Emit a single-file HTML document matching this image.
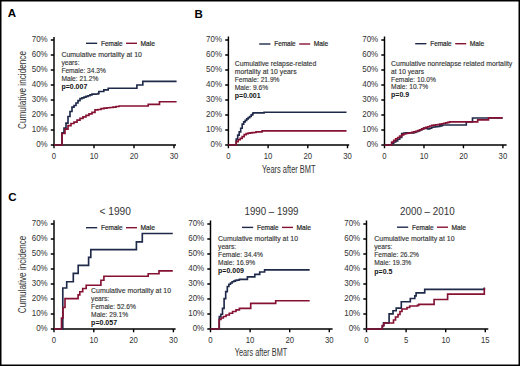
<!DOCTYPE html>
<html><head><meta charset="utf-8"><style>
html,body{margin:0;padding:0;background:#fff;}
body{width:520px;height:366px;position:relative;overflow:hidden;font-family:"Liberation Sans", sans-serif;}
</style></head><body>
<svg width="520" height="366" viewBox="0 0 520 366" style="position:absolute;left:0;top:0" font-family='"Liberation Sans", sans-serif'>
<rect x="0" y="0" width="520" height="366" fill="#fff"/>
<text x="7.8" y="17.4" font-size="11.5" text-anchor="start" font-weight="bold" fill="#000">A</text>
<text x="194.6" y="17.5" font-size="11.5" text-anchor="start" font-weight="bold" fill="#000">B</text>
<text x="8.2" y="201.4" font-size="11.5" text-anchor="start" font-weight="bold" fill="#000">C</text>
<text transform="translate(26,90) rotate(-90)" font-size="10" text-anchor="middle" fill="#333" textLength="78" lengthAdjust="spacingAndGlyphs">Cumulative incidence</text>
<text transform="translate(26,274.4) rotate(-90)" font-size="10" text-anchor="middle" fill="#333" textLength="77.5" lengthAdjust="spacingAndGlyphs">Cumulative incidence</text>
<text x="288.8" y="172.8" font-size="10" text-anchor="middle" font-weight="normal" fill="#333" textLength="53.5" lengthAdjust="spacingAndGlyphs">Years after BMT</text>
<text x="261" y="356.2" font-size="10" text-anchor="middle" font-weight="normal" fill="#333" textLength="52.5" lengthAdjust="spacingAndGlyphs">Years after BMT</text>
<text x="115.2" y="214.5" font-size="10" text-anchor="middle" font-weight="normal" fill="#333" textLength="31.4" lengthAdjust="spacingAndGlyphs">&lt; 1990</text>
<text x="271.5" y="215" font-size="10" text-anchor="middle" font-weight="normal" fill="#333" textLength="54" lengthAdjust="spacingAndGlyphs">1990 – 1999</text>
<text x="427.3" y="215" font-size="10" text-anchor="middle" font-weight="normal" fill="#333" textLength="54.6" lengthAdjust="spacingAndGlyphs">2000 – 2010</text>
<path d="M54 37 V145 M53.4 145 H176" stroke="#000" stroke-width="1.45" fill="none"/>
<path d="M50.8 145.00 H54 M50.8 130.00 H54 M50.8 115.00 H54 M50.8 100.00 H54 M50.8 85.00 H54 M50.8 70.00 H54 M50.8 55.00 H54 M50.8 40.00 H54 M54.00 145 V148.2 M94.00 145 V148.2 M134.00 145 V148.2 M174.00 145 V148.2 " stroke="#000" stroke-width="1.4" fill="none"/>
<text transform="translate(47.7,147.45) scale(0.85,1)" font-size="9.4" text-anchor="end" font-weight="normal" fill="#333">0%</text>
<text transform="translate(47.7,132.45) scale(0.85,1)" font-size="9.4" text-anchor="end" font-weight="normal" fill="#333">10%</text>
<text transform="translate(47.7,117.45) scale(0.85,1)" font-size="9.4" text-anchor="end" font-weight="normal" fill="#333">20%</text>
<text transform="translate(47.7,102.45) scale(0.85,1)" font-size="9.4" text-anchor="end" font-weight="normal" fill="#333">30%</text>
<text transform="translate(47.7,87.45) scale(0.85,1)" font-size="9.4" text-anchor="end" font-weight="normal" fill="#333">40%</text>
<text transform="translate(47.7,72.45) scale(0.85,1)" font-size="9.4" text-anchor="end" font-weight="normal" fill="#333">50%</text>
<text transform="translate(47.7,57.45) scale(0.85,1)" font-size="9.4" text-anchor="end" font-weight="normal" fill="#333">60%</text>
<text transform="translate(47.7,42.45) scale(0.85,1)" font-size="9.4" text-anchor="end" font-weight="normal" fill="#333">70%</text>
<text transform="translate(54.0,158.7) scale(0.9,1)" font-size="8.6" text-anchor="middle" font-weight="normal" fill="#333">0</text>
<text transform="translate(94.0,158.7) scale(0.9,1)" font-size="8.6" text-anchor="middle" font-weight="normal" fill="#333">10</text>
<text transform="translate(134.0,158.7) scale(0.9,1)" font-size="8.6" text-anchor="middle" font-weight="normal" fill="#333">20</text>
<text transform="translate(174.0,158.7) scale(0.9,1)" font-size="8.6" text-anchor="middle" font-weight="normal" fill="#333">30</text>
<path d="M86 43.300000000000004 H97.2" stroke="#1f2a4a" stroke-width="1.4"/>
<path d="M126 43.300000000000004 H137" stroke="#861233" stroke-width="1.4"/>
<text x="101" y="45.8" font-size="7" text-anchor="start" font-weight="normal" fill="#2a2a2a" textLength="21.5" lengthAdjust="spacingAndGlyphs" stroke="#2a2a2a" stroke-width="0.2">Female</text>
<text x="140.5" y="45.8" font-size="7" text-anchor="start" font-weight="normal" fill="#2a2a2a" textLength="14.5" lengthAdjust="spacingAndGlyphs" stroke="#2a2a2a" stroke-width="0.2">Male</text>
<text x="61.4" y="56.8" font-size="7.4" text-anchor="start" font-weight="normal" fill="#333" textLength="80.5" lengthAdjust="spacingAndGlyphs" stroke="#333" stroke-width="0.14">Cumulative mortality at 10</text>
<text x="61.4" y="64.7" font-size="7.4" text-anchor="start" font-weight="normal" fill="#333" textLength="18.11" lengthAdjust="spacingAndGlyphs" stroke="#333" stroke-width="0.14">years:</text>
<text x="61.4" y="72.7" font-size="7.4" text-anchor="start" font-weight="normal" fill="#333" textLength="44.4" lengthAdjust="spacingAndGlyphs" stroke="#333" stroke-width="0.14">Female: 34.3%</text>
<text x="61.4" y="80.8" font-size="7.4" text-anchor="start" font-weight="normal" fill="#333" textLength="37" lengthAdjust="spacingAndGlyphs" stroke="#333" stroke-width="0.14">Male: 21.2%</text>
<text x="61.4" y="88.9" font-size="7" text-anchor="start" font-weight="bold" fill="#111" textLength="25.9" lengthAdjust="spacingAndGlyphs">p=0.007</text>
<path d="M228.4 36.5 V145 M227.8 145 H349.2" stroke="#000" stroke-width="1.45" fill="none"/>
<path d="M225.20000000000002 145.00 H228.4 M225.20000000000002 130.00 H228.4 M225.20000000000002 115.00 H228.4 M225.20000000000002 100.00 H228.4 M225.20000000000002 85.00 H228.4 M225.20000000000002 70.00 H228.4 M225.20000000000002 55.00 H228.4 M225.20000000000002 40.00 H228.4 M228.40 145 V148.2 M268.10 145 V148.2 M307.80 145 V148.2 M347.50 145 V148.2 " stroke="#000" stroke-width="1.4" fill="none"/>
<text transform="translate(222.1,147.45) scale(0.85,1)" font-size="9.4" text-anchor="end" font-weight="normal" fill="#333">0%</text>
<text transform="translate(222.1,132.45) scale(0.85,1)" font-size="9.4" text-anchor="end" font-weight="normal" fill="#333">10%</text>
<text transform="translate(222.1,117.45) scale(0.85,1)" font-size="9.4" text-anchor="end" font-weight="normal" fill="#333">20%</text>
<text transform="translate(222.1,102.45) scale(0.85,1)" font-size="9.4" text-anchor="end" font-weight="normal" fill="#333">30%</text>
<text transform="translate(222.1,87.45) scale(0.85,1)" font-size="9.4" text-anchor="end" font-weight="normal" fill="#333">40%</text>
<text transform="translate(222.1,72.45) scale(0.85,1)" font-size="9.4" text-anchor="end" font-weight="normal" fill="#333">50%</text>
<text transform="translate(222.1,57.45) scale(0.85,1)" font-size="9.4" text-anchor="end" font-weight="normal" fill="#333">60%</text>
<text transform="translate(222.1,42.45) scale(0.85,1)" font-size="9.4" text-anchor="end" font-weight="normal" fill="#333">70%</text>
<text transform="translate(228.4,158.7) scale(0.9,1)" font-size="8.6" text-anchor="middle" font-weight="normal" fill="#333">0</text>
<text transform="translate(268.1,158.7) scale(0.9,1)" font-size="8.6" text-anchor="middle" font-weight="normal" fill="#333">10</text>
<text transform="translate(307.8,158.7) scale(0.9,1)" font-size="8.6" text-anchor="middle" font-weight="normal" fill="#333">20</text>
<text transform="translate(347.5,158.7) scale(0.9,1)" font-size="8.6" text-anchor="middle" font-weight="normal" fill="#333">30</text>
<path d="M259.2 44.0 H270.40000000000003" stroke="#1f2a4a" stroke-width="1.4"/>
<path d="M299.2 44.0 H310.2" stroke="#861233" stroke-width="1.4"/>
<text x="274.2" y="45.8" font-size="7" text-anchor="start" font-weight="normal" fill="#2a2a2a" textLength="21.5" lengthAdjust="spacingAndGlyphs" stroke="#2a2a2a" stroke-width="0.2">Female</text>
<text x="313.7" y="45.8" font-size="7" text-anchor="start" font-weight="normal" fill="#2a2a2a" textLength="14.5" lengthAdjust="spacingAndGlyphs" stroke="#2a2a2a" stroke-width="0.2">Male</text>
<text x="234.8" y="66.3" font-size="7.4" text-anchor="start" font-weight="normal" fill="#333" textLength="81.4" lengthAdjust="spacingAndGlyphs" stroke="#333" stroke-width="0.14">Cumulative relapse-related</text>
<text x="234.8" y="74.4" font-size="7.4" text-anchor="start" font-weight="normal" fill="#333" textLength="61.8" lengthAdjust="spacingAndGlyphs" stroke="#333" stroke-width="0.14">mortality at 10 years</text>
<text x="234.8" y="82.0" font-size="7.4" text-anchor="start" font-weight="normal" fill="#333" textLength="44.73" lengthAdjust="spacingAndGlyphs" stroke="#333" stroke-width="0.14">Female: 21.9%</text>
<text x="234.8" y="89.9" font-size="7.4" text-anchor="start" font-weight="normal" fill="#333" textLength="33.27" lengthAdjust="spacingAndGlyphs" stroke="#333" stroke-width="0.14">Male: 9.6%</text>
<text x="234.8" y="98.0" font-size="7" text-anchor="start" font-weight="bold" fill="#111" textLength="25.8" lengthAdjust="spacingAndGlyphs">p=0.001</text>
<path d="M384.5 36.6 V145 M383.9 145 H506.6" stroke="#000" stroke-width="1.45" fill="none"/>
<path d="M381.3 145.00 H384.5 M381.3 130.00 H384.5 M381.3 115.00 H384.5 M381.3 100.00 H384.5 M381.3 85.00 H384.5 M381.3 70.00 H384.5 M381.3 55.00 H384.5 M381.3 40.00 H384.5 M384.50 145 V148.2 M423.97 145 V148.2 M463.44 145 V148.2 M502.91 145 V148.2 " stroke="#000" stroke-width="1.4" fill="none"/>
<text transform="translate(378.2,147.45) scale(0.85,1)" font-size="9.4" text-anchor="end" font-weight="normal" fill="#333">0%</text>
<text transform="translate(378.2,132.45) scale(0.85,1)" font-size="9.4" text-anchor="end" font-weight="normal" fill="#333">10%</text>
<text transform="translate(378.2,117.45) scale(0.85,1)" font-size="9.4" text-anchor="end" font-weight="normal" fill="#333">20%</text>
<text transform="translate(378.2,102.45) scale(0.85,1)" font-size="9.4" text-anchor="end" font-weight="normal" fill="#333">30%</text>
<text transform="translate(378.2,87.45) scale(0.85,1)" font-size="9.4" text-anchor="end" font-weight="normal" fill="#333">40%</text>
<text transform="translate(378.2,72.45) scale(0.85,1)" font-size="9.4" text-anchor="end" font-weight="normal" fill="#333">50%</text>
<text transform="translate(378.2,57.45) scale(0.85,1)" font-size="9.4" text-anchor="end" font-weight="normal" fill="#333">60%</text>
<text transform="translate(378.2,42.45) scale(0.85,1)" font-size="9.4" text-anchor="end" font-weight="normal" fill="#333">70%</text>
<text transform="translate(384.5,158.7) scale(0.9,1)" font-size="8.6" text-anchor="middle" font-weight="normal" fill="#333">0</text>
<text transform="translate(423.97,158.7) scale(0.9,1)" font-size="8.6" text-anchor="middle" font-weight="normal" fill="#333">10</text>
<text transform="translate(463.44,158.7) scale(0.9,1)" font-size="8.6" text-anchor="middle" font-weight="normal" fill="#333">20</text>
<text transform="translate(502.91,158.7) scale(0.9,1)" font-size="8.6" text-anchor="middle" font-weight="normal" fill="#333">30</text>
<path d="M415.2 43.7 H426.4" stroke="#1f2a4a" stroke-width="1.4"/>
<path d="M455.2 43.7 H466.2" stroke="#861233" stroke-width="1.4"/>
<text x="430.2" y="45.8" font-size="7" text-anchor="start" font-weight="normal" fill="#2a2a2a" textLength="21.5" lengthAdjust="spacingAndGlyphs" stroke="#2a2a2a" stroke-width="0.2">Female</text>
<text x="469.7" y="45.8" font-size="7" text-anchor="start" font-weight="normal" fill="#2a2a2a" textLength="14.5" lengthAdjust="spacingAndGlyphs" stroke="#2a2a2a" stroke-width="0.2">Male</text>
<text x="391.1" y="65.6" font-size="7.4" text-anchor="start" font-weight="normal" fill="#333" textLength="121.2" lengthAdjust="spacingAndGlyphs" stroke="#333" stroke-width="0.14">Cumulative nonrelapse related mortality</text>
<text x="391.1" y="73.7" font-size="7.4" text-anchor="start" font-weight="normal" fill="#333" textLength="32.9" lengthAdjust="spacingAndGlyphs" stroke="#333" stroke-width="0.14">at 10 years</text>
<text x="391.1" y="81.6" font-size="7.4" text-anchor="start" font-weight="normal" fill="#333" textLength="44.73" lengthAdjust="spacingAndGlyphs" stroke="#333" stroke-width="0.14">Female: 10.0%</text>
<text x="391.1" y="89.3" font-size="7.4" text-anchor="start" font-weight="normal" fill="#333" textLength="36.96" lengthAdjust="spacingAndGlyphs" stroke="#333" stroke-width="0.14">Male: 10.7%</text>
<text x="391.1" y="97.3" font-size="7" text-anchor="start" font-weight="bold" fill="#111">p=0.9</text>
<path d="M54 220.3 V329 M53.4 329 H175.6" stroke="#000" stroke-width="1.45" fill="none"/>
<path d="M50.8 329.00 H54 M50.8 314.00 H54 M50.8 299.00 H54 M50.8 284.00 H54 M50.8 269.00 H54 M50.8 254.00 H54 M50.8 239.00 H54 M50.8 224.00 H54 M54.00 329 V332.2 M93.80 329 V332.2 M133.60 329 V332.2 M173.40 329 V332.2 " stroke="#000" stroke-width="1.4" fill="none"/>
<text transform="translate(47.7,331.45) scale(0.85,1)" font-size="9.4" text-anchor="end" font-weight="normal" fill="#333">0%</text>
<text transform="translate(47.7,316.45) scale(0.85,1)" font-size="9.4" text-anchor="end" font-weight="normal" fill="#333">10%</text>
<text transform="translate(47.7,301.45) scale(0.85,1)" font-size="9.4" text-anchor="end" font-weight="normal" fill="#333">20%</text>
<text transform="translate(47.7,286.45) scale(0.85,1)" font-size="9.4" text-anchor="end" font-weight="normal" fill="#333">30%</text>
<text transform="translate(47.7,271.45) scale(0.85,1)" font-size="9.4" text-anchor="end" font-weight="normal" fill="#333">40%</text>
<text transform="translate(47.7,256.45) scale(0.85,1)" font-size="9.4" text-anchor="end" font-weight="normal" fill="#333">50%</text>
<text transform="translate(47.7,241.45) scale(0.85,1)" font-size="9.4" text-anchor="end" font-weight="normal" fill="#333">60%</text>
<text transform="translate(47.7,226.45) scale(0.85,1)" font-size="9.4" text-anchor="end" font-weight="normal" fill="#333">70%</text>
<text transform="translate(54.0,342.7) scale(0.9,1)" font-size="8.6" text-anchor="middle" font-weight="normal" fill="#333">0</text>
<text transform="translate(93.8,342.7) scale(0.9,1)" font-size="8.6" text-anchor="middle" font-weight="normal" fill="#333">10</text>
<text transform="translate(133.6,342.7) scale(0.9,1)" font-size="8.6" text-anchor="middle" font-weight="normal" fill="#333">20</text>
<text transform="translate(173.4,342.7) scale(0.9,1)" font-size="8.6" text-anchor="middle" font-weight="normal" fill="#333">30</text>
<path d="M86 227.7 H97.2" stroke="#1f2a4a" stroke-width="1.4"/>
<path d="M126 227.7 H137" stroke="#861233" stroke-width="1.4"/>
<text x="101" y="229.8" font-size="7" text-anchor="start" font-weight="normal" fill="#2a2a2a" textLength="21.5" lengthAdjust="spacingAndGlyphs" stroke="#2a2a2a" stroke-width="0.2">Female</text>
<text x="140.5" y="229.8" font-size="7" text-anchor="start" font-weight="normal" fill="#2a2a2a" textLength="14.5" lengthAdjust="spacingAndGlyphs" stroke="#2a2a2a" stroke-width="0.2">Male</text>
<text x="91.1" y="293.0" font-size="7.4" text-anchor="start" font-weight="normal" fill="#333" textLength="79.9" lengthAdjust="spacingAndGlyphs" stroke="#333" stroke-width="0.14">Cumulative mortality at 10</text>
<text x="91.1" y="300.9" font-size="7.4" text-anchor="start" font-weight="normal" fill="#333" textLength="18.11" lengthAdjust="spacingAndGlyphs" stroke="#333" stroke-width="0.14">years:</text>
<text x="91.1" y="309.1" font-size="7.4" text-anchor="start" font-weight="normal" fill="#333" textLength="44.73" lengthAdjust="spacingAndGlyphs" stroke="#333" stroke-width="0.14">Female: 52.6%</text>
<text x="91.1" y="317.3" font-size="7.4" text-anchor="start" font-weight="normal" fill="#333" textLength="36.96" lengthAdjust="spacingAndGlyphs" stroke="#333" stroke-width="0.14">Male: 29.1%</text>
<text x="91.1" y="325.1" font-size="7" text-anchor="start" font-weight="bold" fill="#111" textLength="26" lengthAdjust="spacingAndGlyphs">p=0.057</text>
<path d="M210.5 220.5 V329 M209.9 329 H332.6" stroke="#000" stroke-width="1.45" fill="none"/>
<path d="M207.3 329.00 H210.5 M207.3 314.00 H210.5 M207.3 299.00 H210.5 M207.3 284.00 H210.5 M207.3 269.00 H210.5 M207.3 254.00 H210.5 M207.3 239.00 H210.5 M207.3 224.00 H210.5 M210.50 329 V332.2 M250.10 329 V332.2 M289.70 329 V332.2 M329.30 329 V332.2 " stroke="#000" stroke-width="1.4" fill="none"/>
<text transform="translate(204.2,331.45) scale(0.85,1)" font-size="9.4" text-anchor="end" font-weight="normal" fill="#333">0%</text>
<text transform="translate(204.2,316.45) scale(0.85,1)" font-size="9.4" text-anchor="end" font-weight="normal" fill="#333">10%</text>
<text transform="translate(204.2,301.45) scale(0.85,1)" font-size="9.4" text-anchor="end" font-weight="normal" fill="#333">20%</text>
<text transform="translate(204.2,286.45) scale(0.85,1)" font-size="9.4" text-anchor="end" font-weight="normal" fill="#333">30%</text>
<text transform="translate(204.2,271.45) scale(0.85,1)" font-size="9.4" text-anchor="end" font-weight="normal" fill="#333">40%</text>
<text transform="translate(204.2,256.45) scale(0.85,1)" font-size="9.4" text-anchor="end" font-weight="normal" fill="#333">50%</text>
<text transform="translate(204.2,241.45) scale(0.85,1)" font-size="9.4" text-anchor="end" font-weight="normal" fill="#333">60%</text>
<text transform="translate(204.2,226.45) scale(0.85,1)" font-size="9.4" text-anchor="end" font-weight="normal" fill="#333">70%</text>
<text transform="translate(210.5,342.7) scale(0.9,1)" font-size="8.6" text-anchor="middle" font-weight="normal" fill="#333">0</text>
<text transform="translate(250.1,342.7) scale(0.9,1)" font-size="8.6" text-anchor="middle" font-weight="normal" fill="#333">10</text>
<text transform="translate(289.7,342.7) scale(0.9,1)" font-size="8.6" text-anchor="middle" font-weight="normal" fill="#333">20</text>
<text transform="translate(329.3,342.7) scale(0.9,1)" font-size="8.6" text-anchor="middle" font-weight="normal" fill="#333">30</text>
<path d="M242.0 227.39999999999998 H253.2" stroke="#1f2a4a" stroke-width="1.4"/>
<path d="M282.0 227.39999999999998 H293.0" stroke="#861233" stroke-width="1.4"/>
<text x="257.0" y="229.8" font-size="7" text-anchor="start" font-weight="normal" fill="#2a2a2a" textLength="21.5" lengthAdjust="spacingAndGlyphs" stroke="#2a2a2a" stroke-width="0.2">Female</text>
<text x="296.5" y="229.8" font-size="7" text-anchor="start" font-weight="normal" fill="#2a2a2a" textLength="14.5" lengthAdjust="spacingAndGlyphs" stroke="#2a2a2a" stroke-width="0.2">Male</text>
<text x="218.1" y="240.7" font-size="7.4" text-anchor="start" font-weight="normal" fill="#333" textLength="79.9" lengthAdjust="spacingAndGlyphs" stroke="#333" stroke-width="0.14">Cumulative mortality at 10</text>
<text x="218.1" y="248.9" font-size="7.4" text-anchor="start" font-weight="normal" fill="#333" textLength="18.11" lengthAdjust="spacingAndGlyphs" stroke="#333" stroke-width="0.14">years:</text>
<text x="218.1" y="257.0" font-size="7.4" text-anchor="start" font-weight="normal" fill="#333" textLength="44.73" lengthAdjust="spacingAndGlyphs" stroke="#333" stroke-width="0.14">Female: 34.4%</text>
<text x="218.1" y="264.9" font-size="7.4" text-anchor="start" font-weight="normal" fill="#333" textLength="36.96" lengthAdjust="spacingAndGlyphs" stroke="#333" stroke-width="0.14">Male: 16.9%</text>
<text x="218.1" y="272.5" font-size="7" text-anchor="start" font-weight="bold" fill="#111">p=0.009</text>
<path d="M366.5 220.5 V329 M365.9 329 H488.3" stroke="#000" stroke-width="1.45" fill="none"/>
<path d="M363.3 329.00 H366.5 M363.3 314.00 H366.5 M363.3 299.00 H366.5 M363.3 284.00 H366.5 M363.3 269.00 H366.5 M363.3 254.00 H366.5 M363.3 239.00 H366.5 M363.3 224.00 H366.5 M366.50 329 V332.2 M406.10 329 V332.2 M445.70 329 V332.2 M485.30 329 V332.2 " stroke="#000" stroke-width="1.4" fill="none"/>
<text transform="translate(360.2,331.45) scale(0.85,1)" font-size="9.4" text-anchor="end" font-weight="normal" fill="#333">0%</text>
<text transform="translate(360.2,316.45) scale(0.85,1)" font-size="9.4" text-anchor="end" font-weight="normal" fill="#333">10%</text>
<text transform="translate(360.2,301.45) scale(0.85,1)" font-size="9.4" text-anchor="end" font-weight="normal" fill="#333">20%</text>
<text transform="translate(360.2,286.45) scale(0.85,1)" font-size="9.4" text-anchor="end" font-weight="normal" fill="#333">30%</text>
<text transform="translate(360.2,271.45) scale(0.85,1)" font-size="9.4" text-anchor="end" font-weight="normal" fill="#333">40%</text>
<text transform="translate(360.2,256.45) scale(0.85,1)" font-size="9.4" text-anchor="end" font-weight="normal" fill="#333">50%</text>
<text transform="translate(360.2,241.45) scale(0.85,1)" font-size="9.4" text-anchor="end" font-weight="normal" fill="#333">60%</text>
<text transform="translate(360.2,226.45) scale(0.85,1)" font-size="9.4" text-anchor="end" font-weight="normal" fill="#333">70%</text>
<text transform="translate(366.5,342.7) scale(0.9,1)" font-size="8.6" text-anchor="middle" font-weight="normal" fill="#333">0</text>
<text transform="translate(406.1,342.7) scale(0.9,1)" font-size="8.6" text-anchor="middle" font-weight="normal" fill="#333">5</text>
<text transform="translate(445.7,342.7) scale(0.9,1)" font-size="8.6" text-anchor="middle" font-weight="normal" fill="#333">10</text>
<text transform="translate(485.3,342.7) scale(0.9,1)" font-size="8.6" text-anchor="middle" font-weight="normal" fill="#333">15</text>
<path d="M397.0 227.2 H408.2" stroke="#1f2a4a" stroke-width="1.4"/>
<path d="M437.0 227.2 H448.0" stroke="#861233" stroke-width="1.4"/>
<text x="412.0" y="229.8" font-size="7" text-anchor="start" font-weight="normal" fill="#2a2a2a" textLength="21.5" lengthAdjust="spacingAndGlyphs" stroke="#2a2a2a" stroke-width="0.2">Female</text>
<text x="451.5" y="229.8" font-size="7" text-anchor="start" font-weight="normal" fill="#2a2a2a" textLength="14.5" lengthAdjust="spacingAndGlyphs" stroke="#2a2a2a" stroke-width="0.2">Male</text>
<text x="374.3" y="241.2" font-size="7.4" text-anchor="start" font-weight="normal" fill="#333" textLength="80.2" lengthAdjust="spacingAndGlyphs" stroke="#333" stroke-width="0.14">Cumulative mortality at 10</text>
<text x="374.3" y="249.4" font-size="7.4" text-anchor="start" font-weight="normal" fill="#333" textLength="18.11" lengthAdjust="spacingAndGlyphs" stroke="#333" stroke-width="0.14">years:</text>
<text x="374.3" y="257.1" font-size="7.4" text-anchor="start" font-weight="normal" fill="#333" textLength="44.73" lengthAdjust="spacingAndGlyphs" stroke="#333" stroke-width="0.14">Female: 26.2%</text>
<text x="374.3" y="265.2" font-size="7.4" text-anchor="start" font-weight="normal" fill="#333" textLength="36.96" lengthAdjust="spacingAndGlyphs" stroke="#333" stroke-width="0.14">Male: 19.3%</text>
<text x="374.3" y="273.5" font-size="7" text-anchor="start" font-weight="bold" fill="#111">p=0.5</text>
<path d="M54 145 H62 V133 H62.00 V132.88 H64.00 V128.05 H66.00 V123.05 H68.00 V116.50 H70.00 V111.50 H72.00 V107.17 H74.00 V105.54 H76.00 V103.03 H78.00 V100.63 H80.00 V98.57 H82.00 V97.92 H84.00 V97.17 H86.00 V96.37 H88.00 V95.70 H90.00 V94.90 H92.00 V94.17 H94.00 V94.07 H96.00 V93.97 H98.00 V93.90 H98.40 V93.40 H98.9 V91.5 H103.8 V89.8 H108.2 V88.2 H136.9 V85 H142.8 V81.3 H176.6" stroke="#1f2a4a" stroke-width="1.65" fill="none" stroke-linejoin="miter"/>
<path d="M54 145 H62 V135 H62.00 V133.50 H65.00 V129.05 H68.00 V125.60 H71.00 V123.47 H74.00 V122.07 H77.00 V120.16 H80.00 V118.43 H83.00 V116.81 H86.00 V115.30 H89.00 V113.80 H92.00 V112.30 H95.00 V109.88 H98.00 V109.50 H101.00 V108.59 H104.00 V108.05 H107.00 V107.77 H110.00 V107.50 H113.00 V107.14 H116.00 V106.54 H119.00 V106.00 H120.20 V106.00 H148.2 V104.4 H159.5 V101.7 H176.6" stroke="#861233" stroke-width="1.65" fill="none" stroke-linejoin="miter"/>
<path d="M228.4 145 H236.2 V140 H236.20 V139.10 H237.70 V135.14 H239.20 V131.85 H240.70 V128.20 H242.20 V124.08 H243.70 V121.85 H245.20 V120.35 H246.70 V118.91 H248.20 V117.69 H249.70 V116.45 H251.20 V114.89 H252.70 V113.70 H253.10 V112.90 H264.1 V112.2 H346.5" stroke="#1f2a4a" stroke-width="1.65" fill="none" stroke-linejoin="miter"/>
<path d="M228.4 145 H236.2 V142 H236.20 V141.55 H238.20 V139.77 H240.20 V138.43 H242.20 V136.55 H244.20 V134.65 H246.20 V133.68 H248.20 V133.10 H250.20 V132.89 H252.20 V132.69 H254.20 V132.48 H256.00 V131.80 H262.1 V130.9 H346.5" stroke="#861233" stroke-width="1.65" fill="none" stroke-linejoin="miter"/>
<path d="M384.5 145 H391.7 V144 H391.70 V143.15 H393.70 V142.00 H395.70 V140.88 H397.70 V139.21 H399.70 V137.53 H401.70 V133.53 H403.70 V133.00 H405.70 V132.84 H407.70 V132.94 H409.70 V133.04 H411.70 V132.91 H413.70 V132.36 H415.70 V131.70 H417.70 V130.84 H419.70 V129.99 H421.70 V128.81 H423.70 V128.02 H425.70 V128.51 H427.70 V129.00 H429.70 V128.23 H431.70 V127.26 H433.70 V126.98 H435.70 V126.70 H437.70 V126.34 H439.70 V125.82 H441.70 V125.30 H442.70 V125.00 H466.3 V121.8 H472.5 V118 H502.6" stroke="#1f2a4a" stroke-width="1.65" fill="none" stroke-linejoin="miter"/>
<path d="M384.5 145 H391.7 V143.5 H391.70 V142.05 H393.70 V140.34 H395.70 V138.86 H397.70 V137.52 H399.70 V136.17 H401.70 V134.93 H403.70 V133.85 H405.70 V133.52 H407.70 V133.20 H409.70 V132.79 H411.70 V132.35 H413.70 V131.80 H415.70 V131.20 H417.70 V130.52 H419.70 V129.71 H421.70 V128.90 H423.70 V128.12 H425.70 V127.42 H427.70 V126.71 H429.70 V126.00 H431.70 V125.36 H433.70 V125.06 H435.70 V124.77 H437.70 V124.48 H439.70 V124.18 H441.70 V123.73 H443.70 V123.29 H445.70 V122.83 H447.70 V122.33 H449.60 V121.80 H477.7 V119.8 H488.5 V117.8 H502.6" stroke="#861233" stroke-width="1.65" fill="none" stroke-linejoin="miter"/>
<path d="M54 329 H62.8 V288 H66.7 V281.7 H73.3 V273.3 H78.2 V265.3 H88.6 V257.4 H90.8 V249.6 H136.4 V241.8 H142.3 V233.5 H172.8" stroke="#1f2a4a" stroke-width="1.65" fill="none" stroke-linejoin="miter"/>
<path d="M54 329 H61.5 V318 H63 V307.5 H65 V298.6 H78.1 V294.8 H79.8 V291.7 H82.7 V288.5 H86.2 V285.2 H100.9 V280.2 H103.9 V276.2 H148.2 V273.7 H159 V270.9 H172.8" stroke="#861233" stroke-width="1.65" fill="none" stroke-linejoin="miter"/>
<path d="M210.5 329 H219.3 V317 H219.30 V316.63 H220.90 V314.21 H222.50 V308.30 H224.10 V298.59 H225.70 V291.66 H227.30 V286.51 H228.90 V284.22 H230.50 V283.00 H232.10 V281.78 H233.70 V281.06 H235.30 V280.38 H236.90 V280.16 H238.50 V280.01 H239.40 V279.30 H247.4 V276.9 H254.8 V274.4 H259.7 V272 H264.6 V269.8 H309.7" stroke="#1f2a4a" stroke-width="1.65" fill="none" stroke-linejoin="miter"/>
<path d="M210.5 329 H219.1 V319.5 H221 V318 H223.3 V316.5 H226 V315 H229.3 V313.2 H232.6 V311.5 H236 V309.8 H239.4 V308.4 H250.7 V303.4 H275.7 V300.7 H309.7" stroke="#861233" stroke-width="1.65" fill="none" stroke-linejoin="miter"/>
<path d="M366.5 329 H382.3 V326 H383.5 V322.9 H389.1 V313.9 H393 V310.7 H396.2 V308.1 H401.3 V301.7 H410.3 V298.5 H414.8 V295.9 H416.1 V292.8 H424.7 V289.4 H484.3 V287.5" stroke="#1f2a4a" stroke-width="1.65" fill="none" stroke-linejoin="miter"/>
<path d="M366.5 329 H382.3 V325.5 H384 V323 H393.5 V320 H395.5 V317 H398 V314.5 H400 V311.5 H402 V309 H407 V307.5 H409.7 V306 H417.4 V305.3 H418.7 V304.3 H434.1 V299.5 H447.6 V294.1 H484.3 V288" stroke="#861233" stroke-width="1.65" fill="none" stroke-linejoin="miter"/>
<rect x="0.75" y="0.75" width="518.5" height="364.5" fill="none" stroke="#000" stroke-width="1.5"/>
</svg>
</body></html>
